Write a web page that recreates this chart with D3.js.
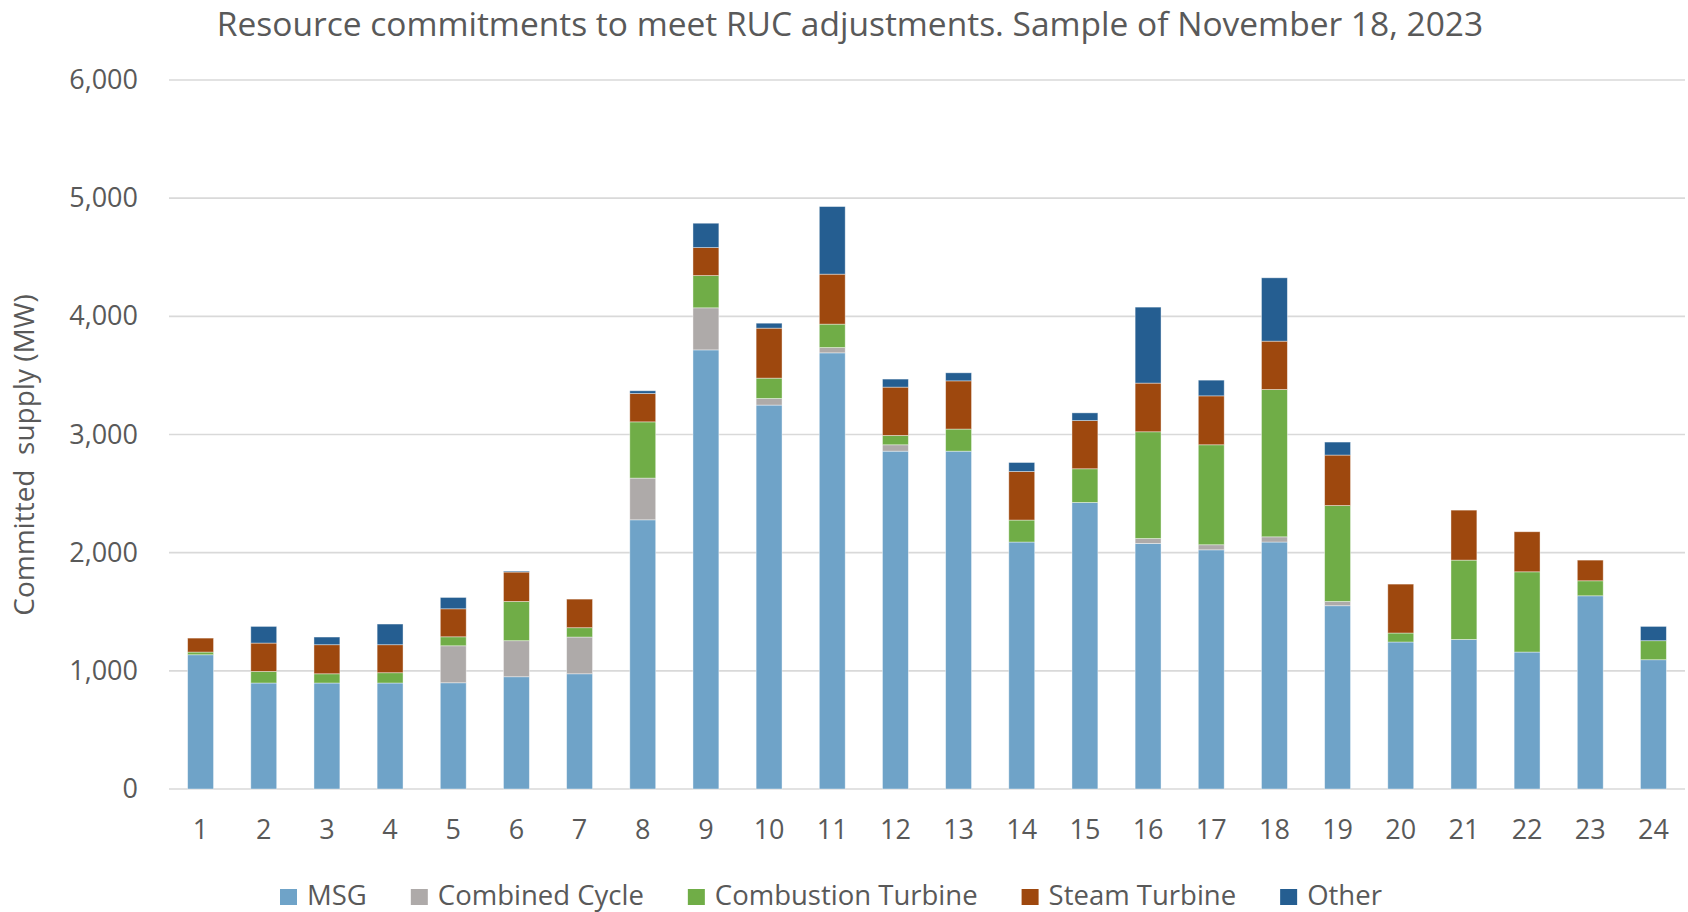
<!DOCTYPE html>
<html>
<head>
<meta charset="utf-8">
<script src="https://cdn.jsdelivr.net/npm/d3@7"></script>
<style>
  body { margin: 0; background: #fff; }
</style>
</head>
<body>
<div class="rucChart"></div>
<script>
// hours of the day
const hours = ['1','2','3','4','5','6','7','8','9','10','11','12','13','14','15','16','17','18','19','20','21','22','23','24'];

const seriesNames = ['MSG', 'Combined Cycle', 'Combustion Turbine', 'Steam Turbine', 'Other'];

// MW per resource type
const msg =               [1136, 897, 897, 897, 899, 950, 975, 2278, 3716, 3249, 3691, 2859, 2859, 2090, 2425, 2078, 2024, 2090, 1551, 1244, 1266, 1159, 1635, 1094];
const combinedCycle =     [0, 0, 0, 0, 313, 305, 311, 353, 356, 56, 45, 54, 0, 0, 0, 42, 43, 44, 36, 0, 0, 0, 0, 0];
const combustionTurbine = [23, 98, 78, 87, 76, 332, 79, 476, 273, 172, 198, 79, 187, 186, 285, 903, 846, 1247, 812, 76, 671, 679, 127, 161];
const steamTurbine =      [118, 240, 246, 237, 237, 249, 242, 240, 237, 423, 423, 409, 408, 411, 408, 412, 414, 409, 427, 414, 423, 339, 175, 0];
const other =             [0, 141, 65, 175, 96, 8, 0, 23, 206, 42, 572, 68, 68, 76, 65, 643, 133, 536, 110, 0, 0, 0, 0, 121];

const yTicks = [0, 1000, 2000, 3000, 4000, 5000, 6000];
const colors = ['#6fa3c8', '#aeaaa9', '#70ad47', '#9e480e', '#255e91'];

function rucChart() {
    const width = 1688;
    const height = 912;
    const margin = {top: 80, right: 3, bottom: 123, left: 169};
    const textColor = '#595959';
    const font = '"Open Sans", sans-serif';

    // one row per hour for the stack
    const rows = hours.map((h, i) => ({
        hour: h,
        'MSG': msg[i],
        'Combined Cycle': combinedCycle[i],
        'Combustion Turbine': combustionTurbine[i],
        'Steam Turbine': steamTurbine[i],
        'Other': other[i]
    }));
    const stacked = d3.stack().keys(seriesNames)(rows);

    const svg = d3.select('.rucChart')
        .append('svg')
        .attr('width', width)
        .attr('height', height)
        .style('font-family', font);

    const scaleX = d3.scaleBand()
        .domain(hours)
        .range([margin.left, width - margin.right])
        .paddingInner(0.59)
        .paddingOuter(0.295);

    const scaleY = d3.scaleLinear()
        .domain([0, 6000])
        .range([height - margin.bottom, margin.top]);

    // gridlines
    svg.append('g')
        .selectAll('line')
        .data(yTicks)
        .join('line')
        .attr('x1', margin.left)
        .attr('x2', width - margin.right)
        .attr('y1', d => scaleY(d))
        .attr('y2', d => scaleY(d))
        .attr('stroke', '#d9d9d9')
        .attr('stroke-width', 1.6);

    // y axis
    const yAxis = svg.append('g')
        .attr('transform', `translate(${margin.left - 31}, 0)`)
        .call(d3.axisLeft(scaleY).tickValues(yTicks).tickFormat(d3.format(',')).tickSize(0).tickPadding(0));
    yAxis.select('.domain').remove();
    yAxis.selectAll('text')
        .attr('fill', textColor)
        .style('font-size', '27px')
        .style('font-family', font);

    // x axis
    const xAxis = svg.append('g')
        .attr('transform', `translate(0, ${height - margin.bottom})`)
        .call(d3.axisBottom(scaleX).tickSize(0).tickPadding(31));
    xAxis.select('.domain').remove();
    xAxis.selectAll('text')
        .attr('fill', textColor)
        .style('font-size', '27px')
        .style('font-family', font);

    // bars
    svg.append('g')
        .selectAll('g')
        .data(stacked)
        .join('g')
        .attr('fill', (d, i) => colors[i])
        .selectAll('rect')
        .data(d => d.filter(p => p[1] - p[0] > 0))
        .join('rect')
        .attr('x', d => scaleX(d.data.hour))
        .attr('width', scaleX.bandwidth())
        .attr('y', d => scaleY(d[1]))
        .attr('height', d => scaleY(d[0]) - scaleY(d[1]))
        .attr('stroke', '#ffffff')
        .attr('stroke-opacity', 0.5)
        .attr('stroke-width', 0.8);

    // title
    svg.append('text')
        .attr('x', 850)
        .attr('y', 36)
        .attr('text-anchor', 'middle')
        .attr('fill', textColor)
        .style('font-size', '33.5px')
        .text('Resource commitments to meet RUC adjustments. Sample of November 18, 2023');

    // y title
    svg.append('text')
        .attr('transform', 'translate(34, 455) rotate(-90)')
        .attr('text-anchor', 'middle')
        .attr('fill', textColor)
        .style('font-size', '28px')
        .style('white-space', 'pre')
        .text('Committed  supply (MW)');

    // legend
    const legend = svg.append('g').attr('transform', 'translate(280, 0)');
    let lx = 0;
    seriesNames.forEach((name, i) => {
        const item = legend.append('g').attr('transform', `translate(${lx}, 0)`);
        item.append('rect')
            .attr('x', 0)
            .attr('y', 889)
            .attr('width', 17)
            .attr('height', 16)
            .attr('fill', colors[i]);
        const t = item.append('text')
            .attr('x', 27)
            .attr('y', 905)
            .attr('fill', textColor)
            .style('font-size', '27.5px')
            .text(name);
        lx += 27 + t.node().getComputedTextLength() + 44;
    });
}

rucChart();
</script>
</body>
</html>
